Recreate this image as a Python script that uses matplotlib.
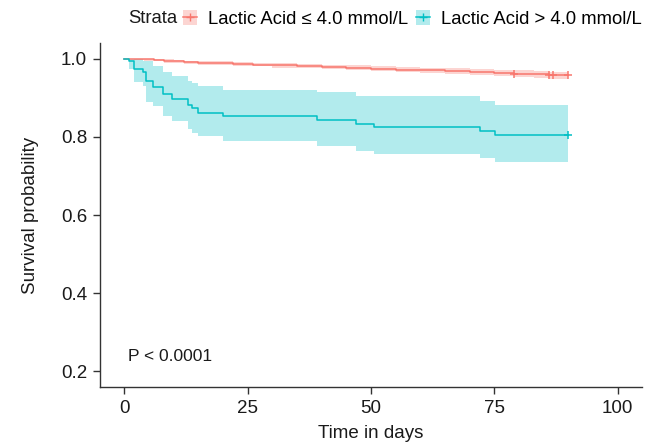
import matplotlib
matplotlib.use("Agg")
import matplotlib.pyplot as plt
from matplotlib.patches import Patch
from matplotlib.lines import Line2D

plt.rcParams['font.family'] = ['Liberation Sans', 'DejaVu Sans']

# low lactate group (<= 4.0 mmol/L)
low_t = [0, 2, 4, 6, 8, 10, 12, 15, 18, 22, 26, 30, 35, 40, 45, 50, 55, 60, 65, 70, 75, 79, 83, 86, 87, 90]
low_s = [1.0, 0.999, 0.998, 0.996, 0.994, 0.993, 0.991, 0.990, 0.989, 0.987, 0.985, 0.983, 0.981,
         0.979, 0.977, 0.974, 0.972, 0.970, 0.968, 0.966, 0.964, 0.962, 0.960, 0.958, 0.957, 0.957]
low_lo = [1.0, 0.997, 0.995, 0.993, 0.990, 0.989, 0.987, 0.985, 0.984, 0.982, 0.980, 0.977, 0.975,
          0.973, 0.971, 0.968, 0.965, 0.963, 0.961, 0.958, 0.956, 0.954, 0.951, 0.949, 0.948, 0.948]
low_hi = [1.0, 1.0, 1.0, 0.999, 0.998, 0.997, 0.995, 0.994, 0.993, 0.992, 0.990, 0.989, 0.987,
          0.985, 0.983, 0.980, 0.978, 0.977, 0.975, 0.973, 0.972, 0.970, 0.968, 0.967, 0.966, 0.966]
low_cens = [79, 86, 87, 90]

# high lactate group (> 4.0 mmol/L)
high_t = [0, 0.9, 1.9, 3.8, 4.3, 5.9, 7.8, 9.6, 12.8, 13.7, 14.9, 20, 39, 47, 50.7, 72.2, 75.1, 90]
high_s = [1.0, 0.994, 0.973, 0.965, 0.942, 0.928, 0.909, 0.898, 0.882, 0.873, 0.862, 0.853,
          0.843, 0.833, 0.825, 0.816, 0.805, 0.805]
high_lo = [1.0, 0.973, 0.941, 0.930, 0.890, 0.880, 0.854, 0.841, 0.820, 0.810, 0.803, 0.790,
           0.776, 0.765, 0.756, 0.746, 0.735, 0.735]
high_hi = [1.0, 1.0, 1.0, 0.993, 0.993, 0.980, 0.965, 0.955, 0.943, 0.937, 0.929, 0.920,
           0.914, 0.905, 0.905, 0.892, 0.882, 0.882]
high_cens = [90]

labels = ['Lactic Acid \u2264 4.0 mmol/L', 'Lactic Acid > 4.0 mmol/L']
colors = ['#F8766D', '#00BFC4']

fig = plt.figure(figsize=(6.56, 4.48), dpi=100)
ax = fig.add_axes([0.152, 0.136, 0.827, 0.768])

groups = [(low_t, low_s, low_lo, low_hi, low_cens), (high_t, high_s, high_lo, high_hi, high_cens)]
for (t, s, lo, hi, cens), col in zip(groups, colors):
    ax.fill_between(t, lo, hi, step='post', color=col, alpha=0.3, linewidth=0)
    ax.step(t, s, where='post', color=col, lw=1.1)
    cs = [s[max(i for i, tt in enumerate(t) if tt <= c)] for c in cens]
    ax.plot(cens, cs, '+', color=col, ms=6, mew=1.1)

ax.text(0.8, 0.238, 'P < 0.0001', fontsize=12.5, color='#1a1a1a', va='center', ha='left')

ax.set_xlim(-5, 105)
ax.set_ylim(0.16, 1.04)
ax.set_xticks([0, 25, 50, 75, 100])
ax.set_yticks([0.2, 0.4, 0.6, 0.8, 1.0])
ax.set_yticklabels(['0.2', '0.4', '0.6', '0.8', '1.0'])
for sp in ['top', 'right']:
    ax.spines[sp].set_visible(False)
for sp in ['left', 'bottom']:
    ax.spines[sp].set_color('#333333')
    ax.spines[sp].set_linewidth(1.0)
ax.tick_params(length=5, width=1.0, color='#333333', labelsize=13.5, labelcolor='#1a1a1a', pad=4)
ax.set_xlabel('Time in days', fontsize=13.5, color='#1a1a1a', labelpad=6)
ax.set_ylabel('Survival probability', fontsize=13.5, color='#1a1a1a', labelpad=16)

handles = [(Patch(facecolor=c, alpha=0.3, edgecolor='none'),
            Line2D([], [], color=c, marker='+', lw=1.1, ms=6)) for c in colors]
fig.text(0.195, 0.958, 'Strata', fontsize=13.3, color='#1a1a1a', va='center')
fig.legend(handles, labels, loc='center left', bbox_to_anchor=(0.279, 0.958), ncol=2,
           frameon=False, fontsize=13.3, handlelength=0.75, handleheight=0.9, handletextpad=0.6,
           columnspacing=0.45, borderpad=0, borderaxespad=0)

fig.savefig('out.png', dpi=100)
